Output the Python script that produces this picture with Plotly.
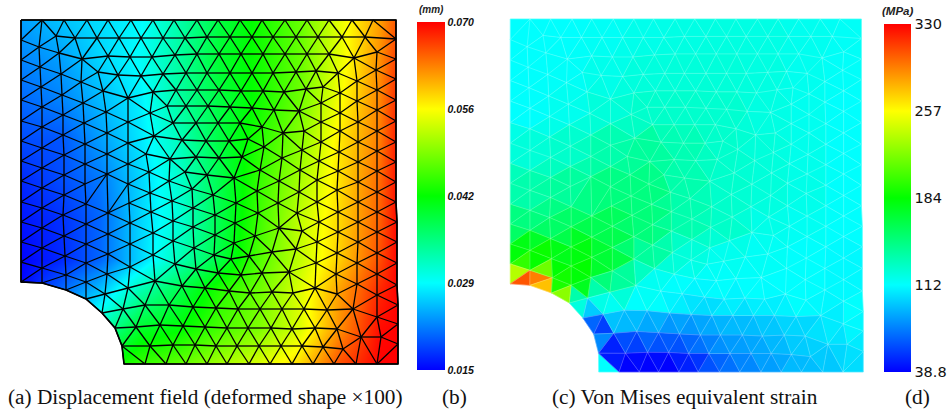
import plotly.graph_objects as go

# ---- mesh nodes ----
MESH_NODES = [
 (21,20),(42,20),(64,20),(87,20),(108,20),(131,20),(153,20),(174,20),(197,20),(218,20),(240,20),(262,20),(285,20),(307,20),(329,20),(352,20),(373,20),(396,20),
 (21,40),(39,47),(56,36),(75,38),(97,38),(119,38),(141,38),(163,38),(185,38),(207,37),(230,37),(252,37),(273,37),(296,37),(318,37),(342,37),(365,37),(396,39),
 (21,60),(40,67),(59,53),(82,59),(108,56),(130,57),(152,57),(175,55),(197,54),(219,54),(241,54),(263,54),(285,54),(307,54),(329,54),(354,58),(377,52),(396,59),
 (21,80),(41,87),(61,74),(81,82),(98,72),(118,75),(141,76),(163,74),(186,73),(207,73),(230,73),(252,73),(273,73),(296,72),(316,71),(338,73),(357,81),(376,70),(396,79),
 (21,100),(42,107),(62,95),(83,103),(103,91),(128,98),(153,92),(176,90),(197,90),(219,90),(241,91),(263,91),(284,92),(306,89),(323,87),(340,93),(357,101),(377,90),(396,100),
 (21,121),(42,127),(63,115),(84,123),(106,112),(128,122),(150,113),(167,106),(186,106),(208,106),(230,107),(252,108),(274,110),(299,111),(321,103),(340,113),(377,110),(396,121),
 (21,141),(42,148),(63,135),(85,144),(107,133),(128,143),(154,136),(173,123),(196,123),(218,123),(240,123),(262,127),(283,133),(304,131),(321,122),(340,131),(358,122),(377,131),(396,142),
 (21,161),(42,168),(64,155),(85,164),(107,154),(128,164),(146,154),(170,159),(182,140),(206,141),(229,141),(248,139),(264,147),(302,150),(321,142),(339,152),(358,142),(377,151),(396,162),
 (196,157),(219,158),(242,157),(282,158),(300,170),(319,161),(338,171),(358,162),(377,171),(396,182),
 (149,172),(169,181),(185,172),(207,175),(234,178),(260,170),(279,181),(317,180),(337,190),(358,182),(377,192),(396,202),
 (192,189),(213,195),(257,191),(299,192),
 (21,181),(42,188),(64,175),(85,184),(107,174),(128,184),(150,193),
 (21,202),(42,208),(21,222),(42,228),(21,242),(42,248),(21,262),(42,268),(21,282),(42,283),
 (64,195),(63,215),(64,236),(65,256),(66,275),(66,290),
 (86,204),(86,224),(86,244),(86,263),(86,282),(86,299),
 (108,213),(108,234),(108,254),(107,274),(105,294),(102,313),(115,328),
 (129,203),(130,223),(130,244),(130,267),(128,288),(123,309),(136,327),(122,346),(124,364),
 (151,212),(153,233),(153,255),(155,281),(145,305),(160,325),(150,346),(145,364),
 (172,201),(173,221),(173,241),(175,264),(182,286),(169,305),(183,326),(173,345),(166,364),
 (193,208),(193,227),(194,248),(196,269),(205,288),(193,307),(205,327),(195,345),(186,364),
 (215,215),(215,235),(214,255),(218,273),(229,291),(216,308),(227,328),(216,346),(207,364),
 (236,203),(235,223),(234,243),(231,259),(241,275),(238,309),(227,364),(237,346),
 (258,213),(279,228),(278,203),(297,213),(317,202),(319,222),(338,212),(358,202),(358,222),(377,212),(397,222),
 (255,236),(302,231),(317,242),(338,232),(358,242),(377,232),(397,242),
 (249,256),(272,252),(296,249),(316,263),(337,253),(357,263),(377,253),(397,263),
 (262,273),(289,272),(336,274),(357,284),(377,274),(397,285),
 (250,293),(272,292),(293,293),(315,288),(337,294),(377,295),(398,305),
 (260,309),(282,309),(304,309),(327,310),(353,309),(377,317),(398,324),
 (248,328),(271,328),(292,329),(315,328),(337,329),(361,337),(381,337),(398,344),
 (259,346),(281,346),(302,346),(323,347),(343,349),
 (249,364),(270,364),(292,364),(313,364),(334,364),(356,364),(377,364),(398,364),
]
NOTCH_OUTLINE = [(21,282),(42,283),(66,290),(86,299),(102,313),(115,328),(122,346),(124,364)]
RIGHT_OUTLINE = [(396,20),(396,39),(396,59),(396,79),(396,100),(396,121),(396,142),(396,162),(396,182),(396,202),
                 (397,222),(397,242),(397,263),(397,285),(398,305),(398,324),(398,344),(398,364)]

# ---- displacement field (mm) (a) ----
DISP_X = [20,60,100,140,180,220,260,300,340,380,398]
DISP_Y = [20,60,100,140,180,220,260,290,330,365]
DISP_Z = [
 [.0235,.0255,.0270,.0285,.0335,.0390,.0435,.0480,.0550,.0615,.0660],
 [.0220,.0235,.0265,.0290,.0340,.0400,.0435,.0480,.0550,.0625,.0670],
 [.0205,.0220,.0250,.0280,.0340,.0390,.0435,.0485,.0560,.0630,.0680],
 [.0190,.0195,.0235,.0275,.0325,.0390,.0445,.0500,.0575,.0635,.0690],
 [.0170,.0190,.0215,.0265,.0315,.0385,.0455,.0515,.0580,.0645,.0695],
 [.0160,.0175,.0205,.0265,.0310,.0385,.0460,.0530,.0585,.0650,.0700],
 [.0150,.0170,.0205,.0265,.0330,.0390,.0470,.0530,.0590,.0660,.0700],
 [.0150,.0205,.0255,.0330,.0385,.0445,.0485,.0545,.0615,.0680,.0700],
 [.0200,.0250,.0330,.0405,.0425,.0465,.0495,.0545,.0625,.0695,.0700],
 [.0300,.0350,.0420,.0455,.0480,.0515,.0545,.0585,.0660,.0700,.0700],
]
DISP_TICKS = [0.015,0.02875,0.0425,0.05625,0.070]
DISP_LABELS = ["0.015","0.029","0.042","0.056","0.070"]

# ---- stress (MPa): coarse table plus notch samples ----
STRESS_X = [525,565,605,645,685,725,765,805,850]
STRESS_Y = [30,70,110,150,190,225,255]
STRESS_Z = [
 [112,112,114,117,119,120,119,116,114],
 [112,113,117,121,122,122,120,116,113],
 [112,116,122,126,126,125,120,116,112],
 [122,126,135,140,133,126,122,117,112],
 [135,140,148,148,135,126,122,118,112],
 [148,155,160,150,135,127,118,115,112],
 [177,177,168,140,122,116,114,112,110],
]
NOTCH_SAMPLES = [
 (520,278,330),(539,280,295),(558,293,230),(577,287,180),(515,275,230),(528,277,220),(550,273,195),(558,282,190),
 (540,267,220),(520,258,205),(537,257,185),(518,250,180),(558,260,180),(580,267,185),(578,250,180),(600,260,175),
 (600,282,150),(623,283,140),(577,298,135),(597,290,135),(590,308,97),(612,307,115),(633,303,112),(589,322,68),
 (600,327,57),(600,340,78),(603,363,112),
 (612,345,48),(633,345,57),(657,345,62),(678,345,62),(700,345,71),(720,345,80),(740,345,84),(760,345,87),(780,345,92),(800,345,97),(830,345,102),(855,345,106),
 (620,363,39),(628,363,39),(650,363,39),(668,363,39),(690,363,48),(710,363,62),(730,363,71),(740,363,77),(770,363,84),(800,363,92),(830,363,96),(855,363,102),
 (622,325,92),(643,325,87),(667,325,82),(690,325,82),(710,325,87),(733,325,92),(765,325,96),(800,325,100),(830,325,106),(855,325,110),
 (655,305,112),(680,305,107),(705,305,102),(730,305,107),(765,305,107),(800,305,112),(855,305,112),
 (650,285,115),(680,285,112),(720,285,112),(760,285,112),(850,285,110),
]
STRESS_TICKS = [38.8,111.6,184.4,257.2,330]
STRESS_LABELS = ["38.8","112","184","257","330"]

JET = [[0,"#0000ff"],[.25,"#00ffff"],[.5,"#00ff00"],[.75,"#ffff00"],[1,"#ff0000"]]
JET_RGB = [(0,0,255),(0,255,255),(0,255,0),(255,255,0),(255,0,0)]

def jet(t):
    t = max(0, min(1, t)) * 4
    i = min(3, int(t)); f = t - i
    a, b = JET_RGB[i], JET_RGB[i+1]
    return "rgb(%d,%d,%d)" % tuple(round(a[k] + (b[k]-a[k])*f) for k in range(3))

# ---- Delaunay triangulation of the nodes (Bowyer-Watson) ----
def delaunay(pts):
    pts = list(pts) + [(-3000,-3000),(4000,-3000),(200,5000)]
    n = len(pts) - 3
    tris = [(n, n+1, n+2)]
    def incircle(t, p):
        (ax,ay),(bx,by),(cx,cy) = pts[t[0]],pts[t[1]],pts[t[2]]
        d = 2*(ax*(by-cy)+bx*(cy-ay)+cx*(ay-by))
        ux = ((ax*ax+ay*ay)*(by-cy)+(bx*bx+by*by)*(cy-ay)+(cx*cx+cy*cy)*(ay-by))/d
        uy = ((ax*ax+ay*ay)*(cx-bx)+(bx*bx+by*by)*(ax-cx)+(cx*cx+cy*cy)*(bx-ax))/d
        return (p[0]-ux)**2+(p[1]-uy)**2 < (ax-ux)**2+(ay-uy)**2
    for i in range(n):
        bad = [t for t in tris if incircle(t, pts[i])]
        count = {}
        for t in bad:
            for e in ((t[0],t[1]),(t[1],t[2]),(t[2],t[0])):
                k = tuple(sorted(e)); count[k] = count.get(k,0)+1
        tris = [t for t in tris if t not in bad]
        for (a,b),c in count.items():
            if c == 1:
                tris.append((a,b,i))
    return [t for t in tris if max(t) < n]

def inside(p, poly):
    x, y = p; r = False
    for i in range(len(poly)):
        x1,y1 = poly[i]; x2,y2 = poly[i-1]
        if (y1>y) != (y2>y) and x < x1+(y-y1)/(y2-y1)*(x2-x1):
            r = not r
    return r

nodes = []
for p in MESH_NODES:
    if all((p[0]-q[0])**2+(p[1]-q[1])**2 > 16 for q in nodes):
        nodes.append(p)
notch_poly = NOTCH_OUTLINE + [(21,364)]
triangles = []
for t in delaunay(nodes):
    a,b,c = (nodes[i] for i in t)
    area = abs((b[0]-a[0])*(c[1]-a[1])-(c[0]-a[0])*(b[1]-a[1]))/2
    cen = ((a[0]+b[0]+c[0])/3,(a[1]+b[1]+c[1])/3)
    if area < 25 or inside(cen, notch_poly):
        continue
    triangles.append(t)

def undeform(p):
    x, y = p
    xr = 510 + (x-20.7)*353/377
    yr = 19 + (y-20)*353/344
    f = max(0,min(1,(y-282)/82))*max(0,1-(x-124)/274)
    g = max(0,min(1,(y-150)/130))*max(0,1-(x-20)/200)*max(0,1-(y-290)/70 if y>290 else 1)
    return (xr-8*f, yr-4*g)

right_nodes = [undeform(p) for p in nodes]

samples = list(NOTCH_SAMPLES)
for j,y in enumerate(STRESS_Y):
    for i,x in enumerate(STRESS_X):
        samples.append((x,y,STRESS_Z[j][i]))

def stress_at(x,y):
    # weighted reading of the nearest hand-read samples
    near = sorted(samples, key=lambda s:(s[0]-x)**2+(s[1]-y)**2)[:4]
    num = den = 0.0
    for s in near:
        d2 = (s[0]-x)**2+(s[1]-y)**2 + 1.0
        w = 1.0/(d2*d2)
        num += w*s[2]; den += w
    return num/den

def edges_xy(pts):
    seen=set(); xs=[]; ys=[]
    for t in triangles:
        for e in ((t[0],t[1]),(t[1],t[2]),(t[2],t[0])):
            k=tuple(sorted(e))
            if k in seen: continue
            seen.add(k)
            xs += [pts[k[0]][0],pts[k[1]][0],None]
            ys += [pts[k[0]][1],pts[k[1]][1],None]
    return xs,ys

fig = go.Figure()

# Panel (a): smooth field
fig.add_trace(go.Heatmap(x=DISP_X,y=DISP_Y,z=DISP_Z,zsmooth="best",coloraxis="coloraxis",hoverinfo="skip"))

outline = [(21,20)] + RIGHT_OUTLINE + [(p) for p in reversed(NOTCH_OUTLINE)]
mx = [0,0,410,410,0] + [p[0] for p in outline] + [21,0]
my = [0,417,417,0,0] + [p[1] for p in outline] + [20,0]
fig.add_trace(go.Scatter(x=mx,y=my,mode="lines",fill="toself",fillcolor="white",line=dict(width=0),hoverinfo="skip"))

lx,ly = edges_xy(nodes)
fig.add_trace(go.Scatter(x=lx,y=ly,mode="lines",line=dict(color="black",width=1.3),hoverinfo="skip"))
ox = [p[0] for p in outline]+[21]; oy=[p[1] for p in outline]+[20]
fig.add_trace(go.Scatter(x=ox,y=oy,mode="lines",line=dict(color="black",width=1.6),hoverinfo="skip"))

# Panel (c): flat elements
vmin,vmax = STRESS_TICKS[0],STRESS_TICKS[-1]
groups = {}
cx=[];cy=[];cv=[]
for t in triangles:
    pts=[right_nodes[i] for i in t]
    x=sum(p[0] for p in pts)/3; y=sum(p[1] for p in pts)/3
    v=stress_at(x,y)
    cx.append(x);cy.append(y);cv.append(v)
    groups.setdefault(jet((v-vmin)/(vmax-vmin)),[]).append(pts)
fig.add_trace(go.Scatter(x=cx,y=cy,mode="markers",marker=dict(size=1,color=cv,coloraxis="coloraxis2"),hoverinfo="skip"))
for col,tris in groups.items():
    xs=[];ys=[]
    for pts in tris:
        xs += [p[0] for p in pts]+[pts[0][0],None]
        ys += [p[1] for p in pts]+[pts[0][1],None]
    fig.add_trace(go.Scatter(x=xs,y=ys,mode="lines",fill="toself",fillcolor=col,line=dict(color=col,width=0.6),hoverinfo="skip"))
rx,ry = edges_xy(right_nodes)
fig.add_trace(go.Scatter(x=rx,y=ry,mode="lines",line=dict(color="rgba(255,255,255,0.28)",width=0.8),hoverinfo="skip"))

def caption(x,text):
    return dict(x=x,y=397,text=text,showarrow=False,xanchor="center",yanchor="middle",
                font=dict(family="Liberation Serif",size=21.3,color="#111"))
annots = [caption(205.5,"(a) Displacement field (deformed shape ×100)"),caption(454,"(b)"),
          caption(685,"(c) Von Mises equivalent strain"),caption(917,"(d)"),
          dict(x=431,y=9,text="<b><i>(mm)</i></b>",showarrow=False,font=dict(family="Liberation Sans",size=10,color="#222")),
          dict(x=897,y=11,text="<b><i>(MPa)</i></b>",showarrow=False,font=dict(family="Liberation Sans",size=11.5,color="#222"))]

W,H=950,417
fig.update_layout(
    width=W,height=H,margin=dict(l=0,r=0,t=0,b=0,autoexpand=False),showlegend=False,
    paper_bgcolor="white",plot_bgcolor="white",
    xaxis=dict(range=[0,W],visible=False,domain=[0,1]),
    yaxis=dict(range=[H,0],visible=False,domain=[0,1]),
    annotations=annots,
    coloraxis=dict(colorscale=JET,cmin=DISP_TICKS[0],cmax=DISP_TICKS[-1],colorbar=dict(
        x=417/W,xanchor="left",y=1-370/H,yanchor="bottom",len=348/H,lenmode="fraction",thickness=28,thicknessmode="pixels",
        outlinewidth=0,tickvals=DISP_TICKS,ticktext=DISP_LABELS,ticks="",ticklen=0,xpad=0,ypad=0,
        tickfont=dict(family="Liberation Sans",size=10.5,color="#111",weight="bold",style="italic"))),
    coloraxis2=dict(colorscale=JET,cmin=vmin,cmax=vmax,colorbar=dict(
        x=884/W,xanchor="left",y=1-372/H,yanchor="bottom",len=348/H,lenmode="fraction",thickness=27,thicknessmode="pixels",
        outlinewidth=0,tickvals=STRESS_TICKS,ticktext=STRESS_LABELS,ticks="",ticklen=0,xpad=0,ypad=0,
        tickfont=dict(family="DejaVu Sans",size=14.5,color="#111"))),
)
fig.write_html("out.html",config=dict(displayModeBar=False),
               post_script="document.documentElement.style.overflow='hidden';document.body.style.margin='0';")
